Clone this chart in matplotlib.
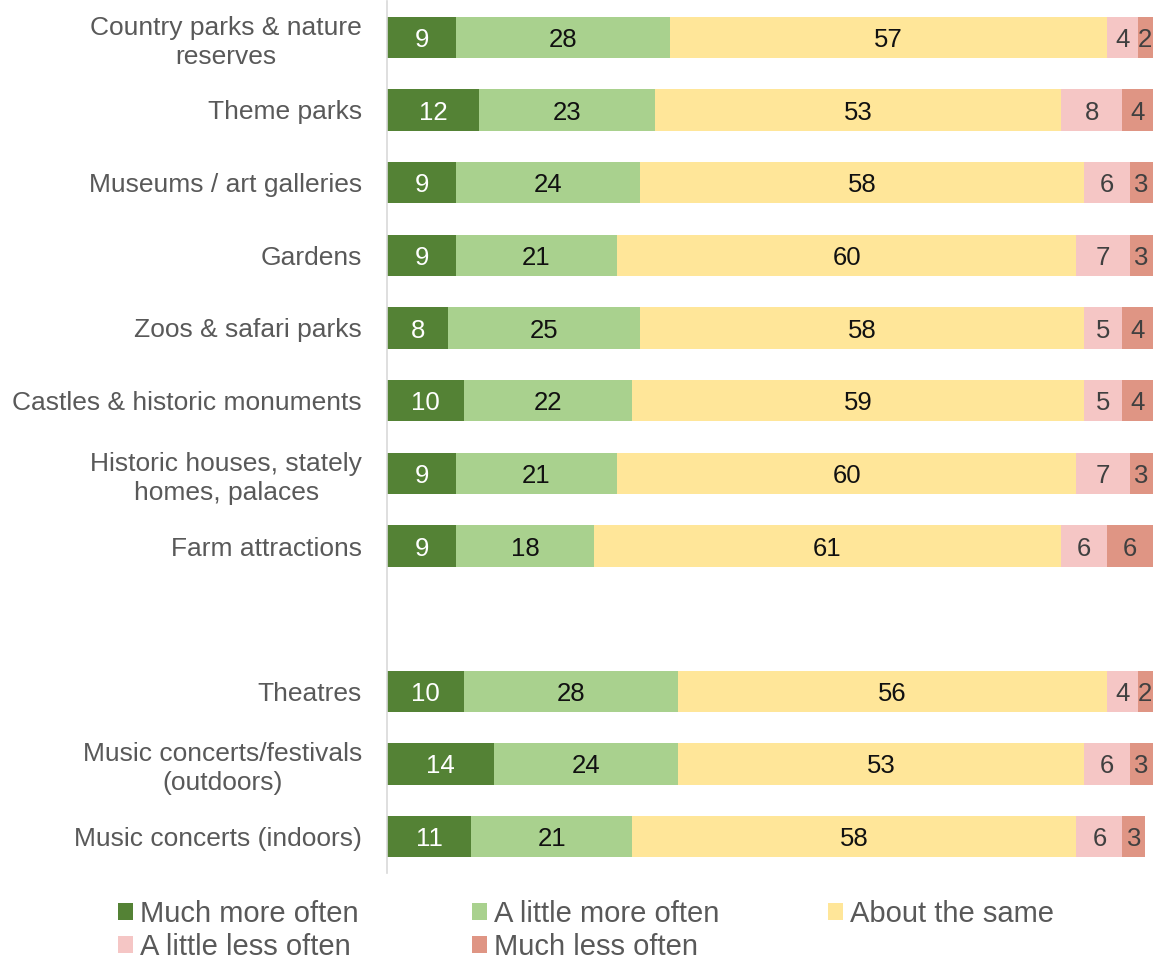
import matplotlib.pyplot as plt
import numpy as np

plt.rcParams['font.family'] = ['Liberation Sans', 'DejaVu Sans']

categories = ['Country parks & nature\nreserves', 'Theme parks', 'Museums / art galleries',
              'Gardens', 'Zoos & safari parks', 'Castles & historic monuments',
              'Historic houses, stately\nhomes, palaces', 'Farm attractions', '',
              'Theatres', 'Music concerts/festivals\n(outdoors)', 'Music concerts (indoors)']

series_names = ['Much more often', 'A little more often', 'About the same',
                'A little less often', 'Much less often']

much_more = [9, 12, 9, 9, 8, 10, 9, 9, None, 10, 14, 11]
little_more = [28, 23, 24, 21, 25, 22, 21, 18, None, 28, 24, 21]
same = [57, 53, 58, 60, 58, 59, 60, 61, None, 56, 53, 58]
little_less = [4, 8, 6, 7, 5, 5, 7, 6, None, 4, 6, 6]
much_less = [2, 4, 3, 3, 4, 4, 3, 6, None, 2, 3, 3]

colors = ['#548235', '#A9D18E', '#FFE699', '#F5C6C5', '#DF9584']
text_colors = ['white', '#111111', '#111111', '#404040', '#404040']

fig = plt.figure(figsize=(11.53, 9.59), dpi=100)
ax = fig.add_axes([387 / 1153, 1 - 873 / 959, 766 / 1153, 872 / 959])

y = np.arange(len(categories))
left = np.zeros(len(categories))
handles = []
for vals, name, col, tcol in zip([much_more, little_more, same, little_less, much_less],
                                 series_names, colors, text_colors):
    v = np.array([0 if x is None else x for x in vals], dtype=float)
    bars = ax.barh(y, v, left=left, height=0.57, color=col, label=name)
    handles.append(bars)
    for i, x in enumerate(vals):
        if x is None:
            continue
        ax.text(left[i] + x / 2, y[i], str(x), ha='center', va='center_baseline',
                fontsize=18.5, color=tcol)
    left += v

ax.set_xlim(0, 100)
ax.set_ylim(len(categories) - 0.5, -0.5)
ax.set_yticks(y)
ax.set_yticklabels(categories, fontsize=19, color='#595959', multialignment='center',
                   linespacing=1.25)
ax.tick_params(axis='y', length=0, pad=18)
ax.set_xticks([])
for s in ['top', 'right', 'bottom']:
    ax.spines[s].set_visible(False)
ax.spines['left'].set_color('#D9D9D9')
ax.spines['left'].set_linewidth(1.2)

# legend laid out row-wise as three single-column legends
legend_cols = [[0, 3], [1, 4], [2]]
col_x = [118, 472, 828]
for idx, x0 in zip(legend_cols, col_x):
    leg = fig.legend([handles[i] for i in idx], [series_names[i] for i in idx],
                     loc='upper left', bbox_to_anchor=(x0 / 1153, 1 - 900 / 959),
                     frameon=False, fontsize=21, handlelength=0.52, handleheight=0.52,
                     handletextpad=0.24, labelspacing=0.17,
                     borderaxespad=0, borderpad=0)
    for t in leg.get_texts():
        t.set_color('#595959')

fig.savefig('out.png', dpi=100)
